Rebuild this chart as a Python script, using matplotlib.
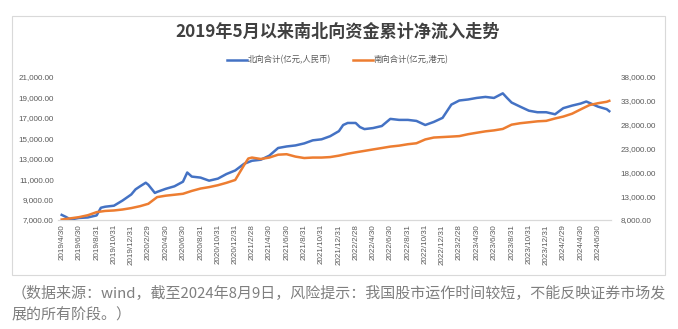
import matplotlib
matplotlib.use("Agg")
import matplotlib.pyplot as plt
import matplotlib.dates as mdates
from matplotlib.patches import Rectangle
from matplotlib.lines import Line2D
import pandas as pd

plt.rcParams['font.family'] = ['Noto Sans CJK SC', 'DejaVu Sans']

title = "2019年5月以来南北向资金累计净流入走势"
north_label = "北向合计(亿元,人民币)"
south_label = "南向合计(亿元,港元)"
caption_1 = "（数据来源：wind，截至2024年8月9日，风险提示：我国股市运作时间较短，不能反映证券市场发"
caption_2 = "展的所有阶段。）"

north_dates = ["2019-04-30", "2019-05-15", "2019-05-31", "2019-06-30", "2019-07-31", "2019-08-31",
               "2019-09-15", "2019-09-30", "2019-10-31", "2019-11-30", "2019-12-31", "2020-01-15",
               "2020-01-31", "2020-02-20", "2020-02-29", "2020-03-23", "2020-03-31", "2020-04-30",
               "2020-05-31", "2020-06-30", "2020-07-15", "2020-07-31", "2020-08-31", "2020-09-30",
               "2020-10-31", "2020-11-30", "2020-12-31", "2021-01-31", "2021-02-28", "2021-03-31",
               "2021-04-30", "2021-05-31", "2021-06-30", "2021-07-31", "2021-08-31", "2021-09-30",
               "2021-10-31", "2021-11-30", "2021-12-31", "2022-01-15", "2022-01-31", "2022-02-28",
               "2022-03-15", "2022-03-31", "2022-04-30", "2022-05-31", "2022-06-30", "2022-07-31",
               "2022-08-31", "2022-09-30", "2022-10-31", "2022-11-30", "2022-12-31", "2023-01-31",
               "2023-02-28", "2023-03-31", "2023-04-30", "2023-05-31", "2023-06-30", "2023-07-31",
               "2023-08-15", "2023-08-31", "2023-09-30", "2023-10-31", "2023-11-30", "2023-12-31",
               "2024-01-31", "2024-02-29", "2024-03-31", "2024-04-30", "2024-05-20", "2024-06-30",
               "2024-07-31", "2024-08-09"]
north_values = [7500, 7300, 7050, 7200, 7250, 7450,
                8200, 8300, 8400, 8900, 9500, 10000,
                10300, 10650, 10450, 9650, 9750, 10050,
                10300, 10750, 11650, 11250, 11150, 10850,
                11050, 11500, 11850, 12500, 12800, 12900,
                13300, 14050, 14200, 14300, 14500, 14800,
                14900, 15200, 15700, 16300, 16500, 16500,
                16100, 15900, 16000, 16200, 16900, 16800,
                16800, 16700, 16300, 16600, 17000, 18300,
                18700, 18800, 18950, 19050, 18950, 19400,
                18950, 18500, 18100, 17700, 17550, 17550,
                17350, 17950, 18200, 18400, 18600, 18100,
                17850, 17650]

south_dates = ["2019-04-30", "2019-05-31", "2019-06-30", "2019-07-31", "2019-08-31", "2019-09-30",
               "2019-10-31", "2019-11-30", "2019-12-31", "2020-01-31", "2020-02-29", "2020-03-31",
               "2020-04-30", "2020-05-31", "2020-06-30", "2020-07-31", "2020-08-31", "2020-09-30",
               "2020-10-31", "2020-11-30", "2020-12-31", "2021-01-31", "2021-02-15", "2021-02-28",
               "2021-03-31", "2021-04-30", "2021-05-31", "2021-06-30", "2021-07-31", "2021-08-31",
               "2021-09-30", "2021-10-31", "2021-11-30", "2021-12-31", "2022-01-31", "2022-02-28",
               "2022-03-31", "2022-04-30", "2022-05-31", "2022-06-30", "2022-07-31", "2022-08-31",
               "2022-09-30", "2022-10-31", "2022-11-30", "2022-12-31", "2023-01-31", "2023-02-28",
               "2023-03-31", "2023-04-30", "2023-05-31", "2023-06-30", "2023-07-31", "2023-08-31",
               "2023-09-30", "2023-10-31", "2023-11-30", "2023-12-31", "2024-01-31", "2024-02-29",
               "2024-03-31", "2024-04-30", "2024-05-31", "2024-06-30", "2024-07-31", "2024-08-09"]
south_values = [8100, 8350, 8600, 9000, 9650, 9900,
                10000, 10200, 10500, 10900, 11400, 12800,
                13100, 13300, 13500, 14100, 14600, 14900,
                15300, 15800, 16400, 19500, 20900, 21100,
                20800, 21100, 21700, 21800, 21300, 21000,
                21100, 21100, 21200, 21500, 21900, 22200,
                22500, 22800, 23100, 23400, 23600, 23900,
                24100, 24900, 25300, 25400, 25500, 25600,
                26000, 26300, 26600, 26800, 27100, 28000,
                28300, 28500, 28700, 28800, 29300, 29700,
                30300, 31200, 32100, 32500, 32800, 33000]

tick_dates = ["2019-04-30", "2019-06-30", "2019-08-31", "2019-10-31", "2019-12-31", "2020-02-29",
              "2020-04-30", "2020-06-30", "2020-08-31", "2020-10-31", "2020-12-31", "2021-02-28",
              "2021-04-30", "2021-06-30", "2021-08-31", "2021-10-31", "2021-12-31", "2022-02-28",
              "2022-04-30", "2022-06-30", "2022-08-31", "2022-10-31", "2022-12-31", "2023-02-28",
              "2023-04-30", "2023-06-30", "2023-08-31", "2023-10-31", "2023-12-31", "2024-02-29",
              "2024-04-30", "2024-06-30"]
tick_labels = ["2019/4/30", "2019/6/30", "2019/8/31", "2019/10/31", "2019/12/31", "2020/2/29",
               "2020/4/30", "2020/6/30", "2020/8/31", "2020/10/31", "2020/12/31", "2021/2/28",
               "2021/4/30", "2021/6/30", "2021/8/31", "2021/10/31", "2021/12/31", "2022/2/28",
               "2022/4/30", "2022/6/30", "2022/8/31", "2022/10/31", "2022/12/31", "2023/2/28",
               "2023/4/30", "2023/6/30", "2023/8/31", "2023/10/31", "2023/12/31", "2024/2/29",
               "2024/4/30", "2024/6/30"]

left_ticks = [7000, 9000, 11000, 13000, 15000, 17000, 19000, 21000]
right_ticks = [8000, 13000, 18000, 23000, 28000, 33000, 38000]

BLUE = "#4472C4"
ORANGE = "#ED7D31"
TICK_C = "#595959"

W, H = 678, 329
fig = plt.figure(figsize=(W / 100, H / 100), dpi=100)
fig.patch.set_facecolor("white")

# chart frame
fig.patches.append(Rectangle((12 / W, 1 - 275 / H), (665 - 12) / W, (275 - 16) / H,
                             transform=fig.transFigure, fill=False,
                             edgecolor="#d9d9d9", linewidth=0.8))

ax = fig.add_axes([58 / W, 1 - 220 / H, (611 - 58) / W, (220 - 77) / H])
ax2 = ax.twinx()

nd = pd.to_datetime(north_dates)
sd = pd.to_datetime(south_dates)
ax.plot(nd, north_values, color=BLUE, linewidth=1.8, zorder=3)
ax2.plot(sd, south_values, color=ORANGE, linewidth=1.8, zorder=2)

ax.set_ylim(7000, 21000)
ax2.set_ylim(8000, 38000)
ax.set_xlim(pd.Timestamp("2019-04-17"), pd.Timestamp("2024-08-15"))

ax.set_yticks(left_ticks)
ax.set_yticklabels([f"{v:,.2f}" for v in left_ticks])
ax2.set_yticks(right_ticks)
ax2.set_yticklabels([f"{v:,.2f}" for v in right_ticks])

ax.set_xticks(pd.to_datetime(tick_dates))
ax.set_xticklabels(tick_labels, rotation=90)

for a in (ax, ax2):
    for s in ("top", "left", "right"):
        a.spines[s].set_visible(False)
    a.spines["bottom"].set_color("#d9d9d9")
    a.spines["bottom"].set_linewidth(0.8)

ax.tick_params(axis="y", length=0, pad=3, labelsize=5.8, labelcolor=TICK_C)
ax2.tick_params(axis="y", length=0, pad=7, labelsize=5.8, labelcolor=TICK_C)
ax.tick_params(axis="x", length=0, pad=3, labelsize=5.8, labelcolor=TICK_C)
for lab in ax.get_yticklabels() + ax2.get_yticklabels() + ax.get_xticklabels():
    lab.set_family(["Liberation Sans", "DejaVu Sans"])

# title
fig.text(338 / W, 1 - 32 / H, title, ha="center", va="center", fontsize=12.3,
         fontweight="bold", color="#404040")

# legend
handles = [Line2D([], [], color=BLUE, linewidth=1.8),
           Line2D([], [], color=ORANGE, linewidth=1.8)]
fig.legend(handles, [north_label, south_label], loc="center",
           bbox_to_anchor=(338 / W, 1 - 60 / H), ncol=2, frameon=False,
           fontsize=6, handlelength=2.4, handletextpad=0.1, columnspacing=2.6,
           labelcolor=TICK_C)

# caption
fig.text(12 / W, 1 - 293 / H, caption_1, ha="left", va="center", fontsize=10.8, color="#7f7f7f")
fig.text(12 / W, 1 - 315 / H, caption_2, ha="left", va="center", fontsize=10.8, color="#7f7f7f")

fig.savefig("out.png", dpi=100, facecolor="white")
